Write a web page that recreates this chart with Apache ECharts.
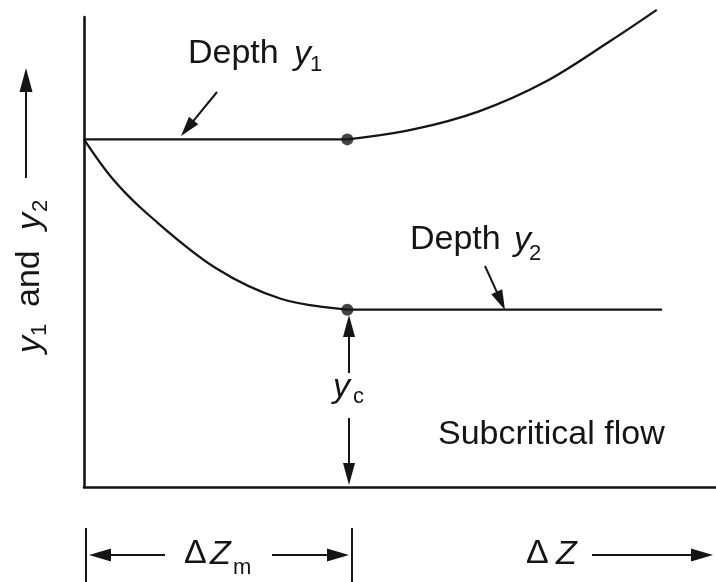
<!DOCTYPE html>
<html>
<head>
<meta charset="utf-8">
<script src="https://cdn.jsdelivr.net/npm/echarts@6/dist/echarts.min.js"></script>
<style>
    html, body { margin: 0; padding: 0; background: #fff; }
    #chart { width: 716px; height: 582px; }
</style>
</head>
<body>
<div id="chart"></div>
<script>
// x: distance ΔZ, y: depth (critical depth yc = 1)
const depth1Flat = [[0, 1.96], [4, 1.96]];
const depth1Rise = [[4, 1.96], [5, 2.016], [6, 2.118], [7, 2.283], [8, 2.516], [8.70, 2.69]];
const depth2Fall = [[0, 1.96], [0.45, 1.731], [1, 1.528], [2, 1.235], [3, 1.06], [4, 1.0]];
const depth2Flat = [[4, 1.0], [8.78, 1.0]];
const criticalPoints = [[4, 1.96], [4, 1.0]];
const xRange = [0, 9.6];
const yRange = [0, 2.65];

const INK = '#151515';
const FONT = '"Liberation Sans", Arial, sans-serif';

// plain text piece, y is the baseline
function txt(text, x, base, size, italic) {
    return {
        type: 'text',
        x: x,
        y: base - size * 0.35,
        silent: true,
        style: {
            text: text,
            font: (italic ? 'italic ' : '') + size + 'px ' + FONT,
            fill: INK,
            align: 'left',
            verticalAlign: 'middle'
        }
    };
}

// straight arrow with a filled head at (x2, y2)
function arrow(x1, y1, x2, y2, len = 20, wid = 12) {
    const dx = x2 - x1, dy = y2 - y1;
    const d = Math.hypot(dx, dy);
    const ux = dx / d, uy = dy / d;
    const bx = x2 - ux * len, by = y2 - uy * len;
    return [{
        type: 'line',
        silent: true,
        shape: { x1: x1, y1: y1, x2: bx + ux * 4, y2: by + uy * 4 },
        style: { stroke: INK, lineWidth: 2 }
    }, {
        type: 'polygon',
        silent: true,
        shape: {
            points: [
                [x2, y2],
                [bx - uy * wid / 2, by + ux * wid / 2],
                [bx + uy * wid / 2, by - ux * wid / 2]
            ]
        },
        style: { fill: INK }
    }];
}

function vbar(x, y1, y2) {
    return {
        type: 'line',
        silent: true,
        shape: { x1: x, y1: y1, x2: x, y2: y2 },
        style: { stroke: INK, lineWidth: 2 }
    };
}

const chart = echarts.init(document.getElementById('chart'), null, { renderer: 'canvas' });

const lineBase = {
    type: 'line',
    symbol: 'none',
    clip: false,
    lineStyle: { color: INK, width: 2.3, join: 'round' },
    silent: true
};

const graphics = [
    // y1 label + pointer
    txt('Depth', 188, 66, 34),
    txt('y', 294, 66, 34, true),
    txt('1', 310, 73, 22),
    ...arrow(217, 92, 181, 136),
    // y2 label + pointer
    txt('Depth', 410, 252, 34),
    txt('y', 514, 252, 34, true),
    txt('2', 529, 262, 22),
    ...arrow(485, 266, 505, 310),
    // yc dimension
    ...arrow(349, 373, 349, 315, 22, 12),
    ...arrow(349, 418, 349, 485, 22, 12),
    txt('y', 333, 399, 34, true),
    txt('c', 353, 405, 22),
    txt('Subcritical flow', 438, 447, 34),
    // ΔZm dimension
    vbar(86, 528, 582),
    vbar(352, 528, 582),
    ...arrow(165, 555, 89, 555, 22, 13),
    ...arrow(272, 555, 349, 555, 22, 13),
    txt('\u0394', 184, 566, 34),
    txt('Z', 210, 566, 34, true),
    txt('m', 233, 576, 22),
    // ΔZ
    txt('\u0394', 526, 566, 34),
    txt('Z', 556, 566, 34, true),
    ...arrow(592, 555, 713, 555, 22, 13),
    // y-axis title, reads bottom to top
    ...arrow(26, 178, 26, 68, 24, 13),
    {
        type: 'group',
        x: 42,
        y: 353,
        rotation: Math.PI / 2,
        children: [
            txt('y', 0, 0, 34, true),
            txt('1', 17, 6, 22),
            txt('and', 46, 0, 34),
            txt('y', 123, 0, 34, true),
            txt('2', 141, 7, 22)
        ]
    }
];

chart.setOption({
    animation: false,
    backgroundColor: '#fff',
    grid: { left: 84, right: 0, top: 17, bottom: 95 },
    xAxis: {
        type: 'value',
        min: xRange[0],
        max: xRange[1],
        axisLine: { show: true, lineStyle: { color: INK, width: 2.6 } },
        axisTick: { show: false },
        axisLabel: { show: false },
        splitLine: { show: false }
    },
    yAxis: {
        type: 'value',
        min: yRange[0],
        max: yRange[1],
        axisLine: { show: true, lineStyle: { color: INK, width: 2.6 } },
        axisTick: { show: false },
        axisLabel: { show: false },
        splitLine: { show: false }
    },
    series: [
        { ...lineBase, name: 'depth1Flat', data: depth1Flat },
        { ...lineBase, name: 'depth1Rise', data: depth1Rise, smooth: 0.35 },
        { ...lineBase, name: 'depth2Fall', data: depth2Fall, smooth: 0.35 },
        { ...lineBase, name: 'depth2Flat', data: depth2Flat },
        {
            type: 'scatter',
            name: 'critical',
            data: criticalPoints,
            symbolSize: 12,
            itemStyle: { color: INK },
            silent: true,
            z: 5
        }
    ],
    graphic: graphics
});
</script>
</body>
</html>
